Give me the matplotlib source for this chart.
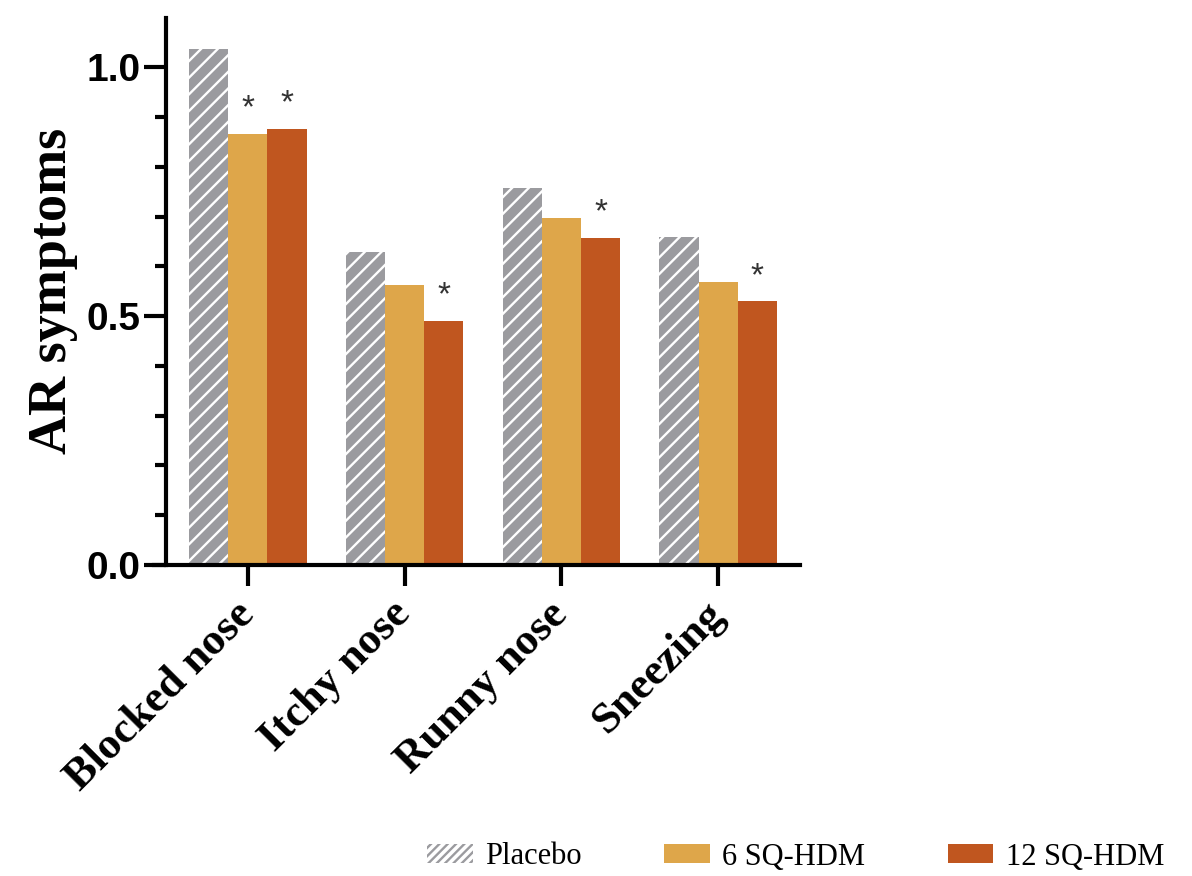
import numpy as np
import matplotlib.pyplot as plt
from matplotlib.patches import Patch

categories = ['Blocked nose', 'Itchy nose', 'Runny nose', 'Sneezing']
series = ['Placebo', '6 SQ-HDM', '12 SQ-HDM']
placebo = [1.037, 0.628, 0.758, 0.660]
sq6 = [0.866, 0.562, 0.697, 0.568]
sq12 = [0.876, 0.491, 0.658, 0.530]
# significance stars: (series index, category index)
stars = [(1, 0), (2, 0), (2, 1), (2, 2), (2, 3)]

gray = '#9b9b9f'
gold = '#dea64a'
rust = '#c0561f'

plt.rcParams['hatch.linewidth'] = 1.7

fig = plt.figure(figsize=(11.92, 8.76), dpi=100)
ax = fig.add_axes([0.139, 0.355, 0.532, 0.625])

x = np.arange(len(categories))
w = 0.25
vals = [placebo, sq6, sq12]

ax.bar(x - w, placebo, w, color=gray, edgecolor='white', hatch='//', linewidth=0)
ax.bar(x, sq6, w, color=gold, linewidth=0)
ax.bar(x + w, sq12, w, color=rust, linewidth=0)

for s, c in stars:
    ax.text(x[c] + (s - 1) * w, vals[s][c] + 0.05, '*', ha='center', va='center',
            fontsize=24, color='#333333', family='Liberation Sans')

ax.set_xlim(-0.523, 3.52)
ax.set_ylim(0, 1.1)
for side in ['top', 'right']:
    ax.spines[side].set_visible(False)
for side in ['left', 'bottom']:
    ax.spines[side].set_linewidth(3)
ax.spines['bottom'].set_bounds(-0.6, 3.52)

ax.set_yticks([0, 0.5, 1.0])
ax.set_yticklabels(['0.0', '0.5', '1.0'], family='Liberation Sans', fontweight='bold', fontsize=28)
ax.set_yticks(np.arange(0, 1.05, 0.1), minor=True)
ax.tick_params(axis='y', which='major', length=16, width=3, pad=2)
ax.tick_params(axis='y', which='minor', length=8, width=3)
ax.set_xticks(x)
ax.set_xticklabels(categories, rotation=45, ha='right', va='center', rotation_mode='anchor',
                   family='Liberation Serif', fontweight='bold', fontsize=32)
ax.tick_params(axis='x', length=15, width=3, pad=16)

ax.set_ylabel('AR symptoms', family='Liberation Serif', fontweight='bold', fontsize=39, labelpad=6)

handles = [Patch(facecolor='white', edgecolor=gray, hatch='////', linewidth=0),
           Patch(facecolor=gold, linewidth=0),
           Patch(facecolor=rust, linewidth=0)]
fig.legend(handles, series, loc='center left', bbox_to_anchor=(0.335, 1 - 857 / 876),
           ncol=3, frameon=False, prop={'family': 'Liberation Serif', 'size': 22},
           handlelength=1.5, handleheight=0.6, handletextpad=0.4, columnspacing=2.7)

fig.savefig('out.png', dpi=100)
